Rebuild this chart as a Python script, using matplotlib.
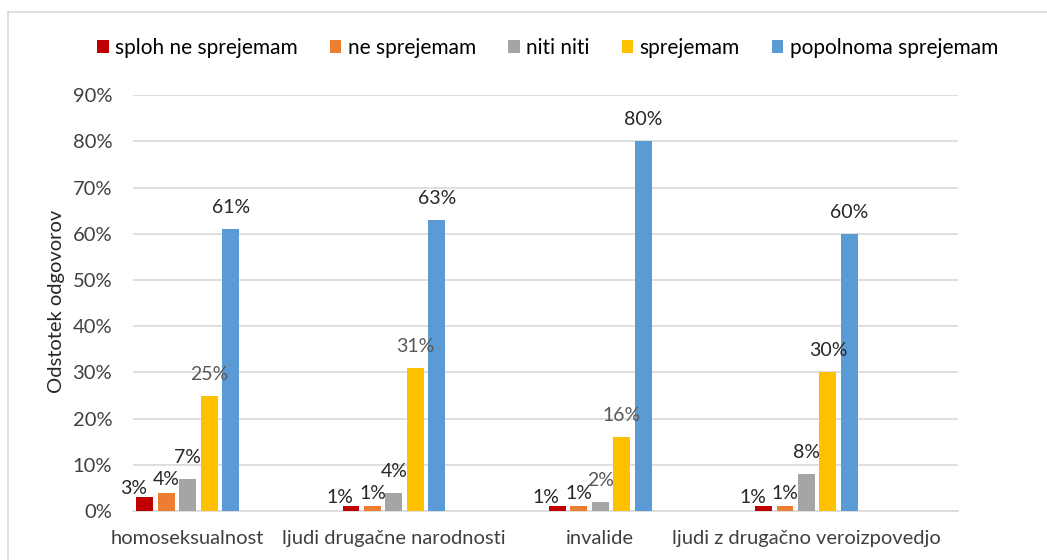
import numpy as np
import matplotlib.pyplot as plt
from matplotlib.lines import Line2D
from matplotlib.patches import Patch

plt.rcParams['font.family'] = ['Lato', 'DejaVu Sans']

# data
categories = ["homoseksualnost", "ljudi drugačne narodnosti", "invalide",
              "ljudi z drugačno veroizpovedjo"]
series = ["sploh ne sprejemam", "ne sprejemam", "niti niti", "sprejemam",
          "popolnoma sprejemam"]
sploh_ne = [3, 1, 1, 1]
ne_sprejemam = [4, 1, 1, 1]
niti_niti = [7, 4, 2, 8]
sprejemam = [25, 31, 16, 30]
popolnoma = [61, 63, 80, 60]
y_ticks = [0, 10, 20, 30, 40, 50, 60, 70, 80, 90]

values = [sploh_ne, ne_sprejemam, niti_niti, sprejemam, popolnoma]
colors = ["#c00000", "#ed7d31", "#a5a5a5", "#ffc000", "#5b9bd5"]
# label gap above bar (points) and x shift (points) per series
label_gap = [2.5, 5.5, 11.5, 11.5, 11.5]
label_dx = [-8, 0, 0, 0, 0]
gray_labels = {(3, 0), (3, 1), (3, 2), (2, 2)}

fig = plt.figure(figsize=(10.47, 5.6), dpi=100)
ax = fig.add_axes([0.127, 0.0875, 0.788, 0.7425])

x = np.arange(len(categories))
pitch = 0.104
width = 0.082
for k, (vals, col) in enumerate(zip(values, colors)):
    pos = x + (k - 2) * pitch
    ax.bar(pos, vals, width=width, color=col, zorder=3)
    for i, v in enumerate(vals):
        c = "#595959" if (k, i) in gray_labels else "#262626"
        ax.annotate(f"{v}%", (pos[i], v), xytext=(label_dx[k], label_gap[k]),
                    textcoords="offset points", ha="center", va="baseline",
                    fontsize=14, color=c, zorder=4)

ax.set_xlim(-2.55 * pitch, len(categories) - 2.55 * pitch)
ax.set_ylim(0, 90)
ax.set_yticks(y_ticks)
ax.set_yticklabels([f"{t}%" for t in y_ticks])
ax.set_xticks(x)
ax.set_xticklabels(categories)
ax.tick_params(axis="both", length=0, labelsize=14.5, colors="#404040")
ax.tick_params(axis="y", pad=15)
ax.tick_params(axis="x", pad=14)
ax.grid(axis="y", color="#d9d9d9", linewidth=1.2, zorder=0)
for s in ["top", "right", "left"]:
    ax.spines[s].set_visible(False)
ax.spines["bottom"].set_color("#d9d9d9")
ax.spines["bottom"].set_linewidth(1.2)

fig.text(0.054, 0.461, "Odstotek odgovorov", rotation=90, ha="center",
         va="center", fontsize=14.5, color="#262626")

handles = [Patch(facecolor=c, edgecolor="none") for c in colors]
fig.legend(handles, series, loc="center", bbox_to_anchor=(0.523, 0.915),
           ncol=5, frameon=False, fontsize=15, handlelength=0.55,
           handleheight=0.55, handletextpad=0.3, columnspacing=1.55)

# chart border (top and left visible)
fig.add_artist(Line2D([0.008, 1.0], [0.978, 0.978], color="#d9d9d9", lw=1.2))
fig.add_artist(Line2D([0.008, 0.008], [0.0, 0.978], color="#d9d9d9", lw=1.2))

fig.savefig("out.png", dpi=100)
